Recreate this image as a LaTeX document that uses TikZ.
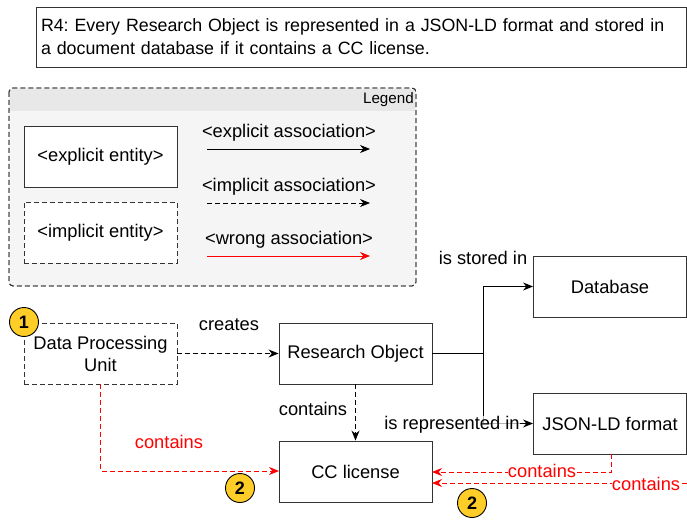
\documentclass[tikz,border=0pt]{standalone}
\usepackage{fontspec}
\setmainfont{Liberation Sans}
\usetikzlibrary{arrows.meta}
\definecolor{boxline}{HTML}{333333}
\definecolor{badge}{HTML}{FFCD28}
\definecolor{legbody}{HTML}{F5F5F5}
\definecolor{leghead}{HTML}{E8E8E8}
\definecolor{wrongred}{HTML}{FF0000}
\frenchspacing
\begin{document}
\begin{tikzpicture}[x=1pt,y=-1pt,
  every node/.style={font=\fontsize{18.3}{22}\selectfont},
  ent/.style={draw=boxline,line width=0.9pt,fill=white,minimum width=153pt,minimum height=61pt,inner sep=0pt,align=center},
  ient/.style={ent,dashed,dash pattern=on 5pt off 3pt},
  conn/.style={line width=0.9pt,-{Stealth[length=10pt,width=8pt]}},
  iconn/.style={conn,dash pattern=on 5pt off 3pt},
  wconn/.style={conn,wrongred},
  wiconn/.style={iconn,wrongred},
  lbl/.style={inner sep=1pt},
  num/.style={circle,draw=black,line width=0.9pt,fill=badge,minimum size=29pt,inner sep=0pt,font=\fontsize{18}{20}\selectfont\bfseries}
]
\useasboundingbox (0,0) rectangle (687,521);
% title
\node[draw=boxline,line width=0.9pt,minimum width=650pt,minimum height=60pt,text width=640pt,align=left,inner sep=0pt,font=\fontsize{17.8}{23}\selectfont] (title) at (361,37) {R4: Every Research Object is represented in a JSON-LD format and stored in\\a document database if it contains a CC license.};
% legend
\filldraw[fill=legbody,draw=boxline,line width=0.9pt,dash pattern=on 5pt off 3pt,rounded corners=4pt] (9,88) rectangle (416,286);
\fill[leghead,rounded corners=4pt] (10,89) rectangle (415,111);
\fill[leghead] (10,100) rectangle (415,111);
\draw[boxline,line width=0.9pt,dash pattern=on 5pt off 3pt,rounded corners=4pt] (9,88) rectangle (416,286);
\node[anchor=east,inner sep=0pt,font=\fontsize{15.2}{17}\selectfont] (legtitle) at (414,100) {Legend};
\node[ent] (lexp) at (100.5,156.5) {<explicit entity>};
\node[ient] (limp) at (100.5,232.5) {<implicit entity>};
\coordinate (a1s) at (207,149); \coordinate (a1e) at (370,149);
\coordinate (a2s) at (207,203); \coordinate (a2e) at (370,203);
\coordinate (a3s) at (207,256); \coordinate (a3e) at (370,256);
\draw[conn] (a1s) -- (a1e);
\draw[iconn] (a2s) -- (a2e);
\draw[wconn] (a3s) -- (a3e);
\node[lbl] (l1) at (289,133) {<explicit association>};
\node[lbl] (l2) at (289,187) {<implicit association>};
\node[lbl] (l3) at (289,240) {<wrong association>};
% main entities
\node[ient] (dpu) at (100.5,353.5) {Data Processing\\Unit};
\node[ent] (ro) at (355.5,353.5) {Research Object};
\node[ent] (db) at (610,286.5) {Database};
\node[ent] (json) at (610,423.5) {JSON-LD format};
\node[ent] (cc) at (355.5,471.5) {CC license};
% connectors
\draw[iconn] (dpu.east) -- (ro.west);
\node[lbl] (creates) at (229,325) {creates};
\coordinate (br) at (483,353.5);
\draw[line width=0.9pt] (ro.east) -- (br);
\draw[conn] (br) |- (db.west);
\draw[conn] (br) |- (json.west);
\node[lbl] (stored) at (483,258) {is stored in};
\node[lbl,fill=white,fill opacity=0.7,text opacity=1,inner sep=0pt] (repr) at (452,425) {is represented in};
\draw[iconn] (ro.south) -- (cc.north);
\node[lbl] (contains1) at (313,409) {contains};
\coordinate (cc1) at (279,471);
\draw[wiconn] (dpu.south) |- (cc1);
\node[lbl,text=wrongred] (contains2) at (169,442) {contains};
\coordinate (j1) at (611,453.5);
\coordinate (j2) at (611,472);
\coordinate (cc2) at (432,472);
\draw[wiconn] (j1) -- (j2) -- (cc2);
\node[lbl,fill=white,text=wrongred,inner sep=0pt] (contains3) at (542,471) {contains};
\coordinate (r1) at (687,483);
\coordinate (cc3) at (432,483);
\draw[wiconn] (r1) -- (cc3);
\node[lbl,fill=white,text=wrongred,inner sep=0pt] (contains4) at (646,484) {contains};
% badges
\node[num] (n1) at (24,322) {1};
\node[num] (n2a) at (240,488) {2};
\node[num] (n2b) at (472,503) {2};
\end{tikzpicture}
\end{document}
